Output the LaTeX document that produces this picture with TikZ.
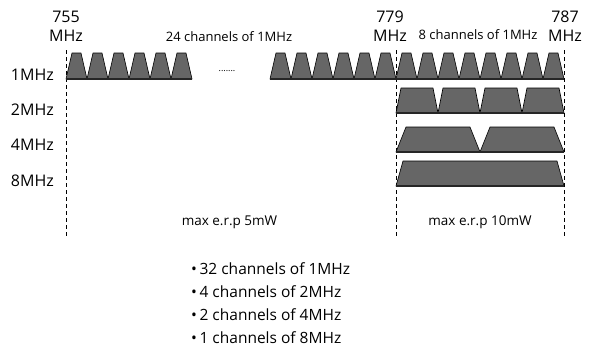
\documentclass[tikz,border=0pt]{standalone}
\usepackage{fontspec}
\setmainfont{Open Sans}
\begin{document}
\begin{tikzpicture}[
  x=1pt, y=-1pt,
  chan/.style={draw=black, line width=0.6pt, fill=black!60, line join=round},
  base/.style={line width=1.4pt, black!85},
  band/.style={line width=0.7pt, dash pattern=on 3.5pt off 3.5pt},
  freq/.style={font=\fontsize{16}{19}\selectfont, align=center, inner sep=0pt},
  rowlbl/.style={font=\fontsize{16}{19}\selectfont, anchor=east, inner sep=0pt},
  hdr/.style={font=\fontsize{13}{16}\selectfont, inner sep=0pt},
  erp/.style={font=\fontsize{13.5}{16}\selectfont, inner sep=0pt},
]
\useasboundingbox (0,0) rectangle (595,349);

% Band edges
\coordinate (b755t) at (66,50);  \coordinate (b755b) at (66,238);
\coordinate (b779t) at (396,50); \coordinate (b779b) at (396,238);
\coordinate (b787t) at (564,50); \coordinate (b787b) at (564,238);
\draw[band] (b755t) -- (b755b);
\draw[band] (b779t) -- (b779b);
\draw[band] (b787t) -- (b787b);

% Frequency labels
\node[freq] (f755) at (66,26)  {755\\MHz};
\node[freq] (f779) at (390,26) {779\\MHz};
\node[freq] (f787) at (565,26) {787\\MHz};
\node[hdr] (h24) at (229,37) {24 channels of 1MHz};
\node[hdr] (h8)  at (478,35) {8 channels of 1MHz};

% Row labels
\node[rowlbl] (r1) at (54,75)  {1MHz};
\node[rowlbl] (r2) at (54,110) {2MHz};
\node[rowlbl] (r4) at (54,145) {4MHz};
\node[rowlbl] (r8) at (54,181) {8MHz};

% 1MHz channels (left group, gap, right group)
\foreach \i in {0,...,5}
  \draw[chan] ({66+21*\i},79) -- ({72+21*\i},53) -- ({81+21*\i},53) -- ({87+21*\i},79) -- cycle;
\foreach \i in {0,...,13}
  \draw[chan] ({270+21*\i},79) -- ({276+21*\i},53) -- ({285+21*\i},53) -- ({291+21*\i},79) -- cycle;
\draw[base] (66,79) -- (192,79);
\draw[base] (270,79) -- (564,79);
\node[font=\small, inner sep=0pt] (dots) at (227,71) {.......};

% 2MHz channels
\foreach \i in {0,...,3}
  \draw[chan] ({396+42*\i},113) -- ({401+42*\i},88) -- ({433+42*\i},88) -- ({438+42*\i},113) -- cycle;
\draw[base] (396,113) -- (564,113);

% 4MHz channels
\foreach \i in {0,1}
  \draw[chan] ({396+84*\i},152) -- ({406+84*\i},127) -- ({470+84*\i},127) -- ({480+84*\i},152) -- cycle;
\draw[base] (396,152) -- (564,152);

% 8MHz channel
\draw[chan] (396,186) -- (403,161) -- (557,161) -- (564,186) -- cycle;
\draw[base] (396,186) -- (564,186);

% Power limits
\node[erp] (p5)  at (229.5,222) {max e.r.p 5mW};
\node[erp] (p10) at (480,222) {max e.r.p 10mW};

% Summary (anchor on the last baseline)
\node[font=\fontsize{15.5}{23}\selectfont, align=left, anchor=base west, inner sep=0pt] (sum) at (191,343)
  {\textbullet\,32 channels of 1MHz\\
   \textbullet\,4 channels of 2MHz\\
   \textbullet\,2 channels of 4MHz\\
   \textbullet\,1 channels of 8MHz};
\end{tikzpicture}
\end{document}
